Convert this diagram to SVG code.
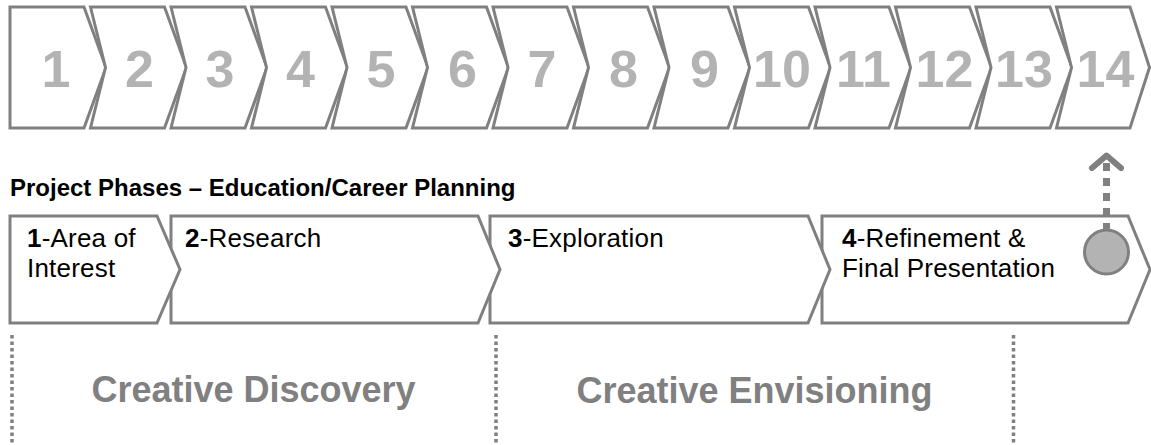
<svg xmlns="http://www.w3.org/2000/svg" width="1151" height="445" viewBox="0 0 1151 445">
<style>
.chev{fill:#fff;stroke:#808080;stroke-width:3;stroke-linejoin:miter}
.num{font-family:"Liberation Sans",Arial,sans-serif;font-weight:bold;font-size:52px;fill:#b3b3b3;text-anchor:middle}
.ph{font-family:"Liberation Sans",Arial,sans-serif;font-size:26px;fill:#000;letter-spacing:0.2px}
.ph .b{font-weight:bold}
.title{font-family:"Liberation Sans",Arial,sans-serif;font-weight:bold;font-size:24px;fill:#000}
.era{font-family:"Liberation Sans",Arial,sans-serif;font-weight:bold;font-size:36px;fill:#808080;text-anchor:middle}
.dots{stroke:#808080;stroke-width:3.5;stroke-dasharray:3.5 3;fill:none}
</style>
<rect width="1151" height="445" fill="#fff"/>
<g id="weeks">
<g id="week-1"><path class="chev" d="M10,7 H84 L106,67.5 L84,128 H10 Z"/><text class="num" x="56" y="87">1</text></g>
<g id="week-2"><path class="chev" d="M90.5,7 H164.5 L186.5,67.5 L164.5,128 H90.5 L105.5,67.5 Z"/><text class="num" x="139.5" y="87">2</text></g>
<g id="week-3"><path class="chev" d="M171,7 H245 L267,67.5 L245,128 H171 L186,67.5 Z"/><text class="num" x="220" y="87">3</text></g>
<g id="week-4"><path class="chev" d="M251.5,7 H325.5 L347.5,67.5 L325.5,128 H251.5 L266.5,67.5 Z"/><text class="num" x="300.5" y="87">4</text></g>
<g id="week-5"><path class="chev" d="M332,7 H406 L428,67.5 L406,128 H332 L347,67.5 Z"/><text class="num" x="381" y="87">5</text></g>
<g id="week-6"><path class="chev" d="M412.5,7 H486.5 L508.5,67.5 L486.5,128 H412.5 L427.5,67.5 Z"/><text class="num" x="462.5" y="87">6</text></g>
<g id="week-7"><path class="chev" d="M493,7 H567 L589,67.5 L567,128 H493 L508,67.5 Z"/><text class="num" x="542" y="87">7</text></g>
<g id="week-8"><path class="chev" d="M573.5,7 H647.5 L669.5,67.5 L647.5,128 H573.5 L588.5,67.5 Z"/><text class="num" x="623.5" y="87">8</text></g>
<g id="week-9"><path class="chev" d="M654,7 H728 L750,67.5 L728,128 H654 L669,67.5 Z"/><text class="num" x="704.5" y="87">9</text></g>
<g id="week-10"><path class="chev" d="M734.5,7 H808.5 L830.5,67.5 L808.5,128 H734.5 L749.5,67.5 Z"/><text class="num" x="782" y="87">10</text></g>
<g id="week-11"><path class="chev" d="M815,7 H889 L911,67.5 L889,128 H815 L830,67.5 Z"/><text class="num" x="863.5" y="87">11</text></g>
<g id="week-12"><path class="chev" d="M895.5,7 H969.5 L991.5,67.5 L969.5,128 H895.5 L910.5,67.5 Z"/><text class="num" x="944.5" y="87">12</text></g>
<g id="week-13"><path class="chev" d="M976,7 H1050 L1072,67.5 L1050,128 H976 L991,67.5 Z"/><text class="num" x="1024" y="87">13</text></g>
<g id="week-14"><path class="chev" d="M1056.5,7 H1130 L1149.5,67.5 L1130,128 H1056.5 L1071.5,67.5 Z"/><text class="num" x="1105.5" y="87">14</text></g>
</g>
<text id="title" class="title" x="10" y="196">Project Phases – Education/Career Planning</text>
<g id="phases">
<g id="phase-4"><path class="chev" d="M822,216 H1128 L1150,269.5 L1128,323 H822 Z"/><text class="ph" x="842" y="247"><tspan class="b">4</tspan>-Refinement &amp;</text><text class="ph" x="842" y="277">Final Presentation</text></g>
<g id="phase-3"><path class="chev" d="M490,216 H808 L830,269.5 L808,323 H490 Z"/><text class="ph" x="508" y="247"><tspan class="b">3</tspan>-Exploration</text></g>
<g id="phase-2"><path class="chev" d="M171,216 H478 L500,269.5 L478,323 H171 Z"/><text class="ph" x="185" y="247"><tspan class="b">2</tspan>-Research</text></g>
<g id="phase-1"><path class="chev" d="M10,216 H157 L180,269.5 L157,323 H10 Z"/><text class="ph" x="27" y="247"><tspan class="b">1</tspan>-Area of</text><text class="ph" x="27" y="277">Interest</text></g>
</g>
<g id="milestone"><circle cx="1106.5" cy="252" r="22" fill="#b3b3b3" stroke="#808080" stroke-width="3"/></g>
<g id="connectors">
<line x1="1106.5" y1="163" x2="1106.5" y2="230" stroke="#808080" stroke-width="7" stroke-dasharray="8 7"/>
<polyline points="1092,168 1106.5,155.5 1121,168" fill="none" stroke="#808080" stroke-width="6" stroke-linecap="round" stroke-linejoin="round"/>
<line class="dots" x1="12" y1="335" x2="12" y2="445"/>
<line class="dots" x1="496" y1="335" x2="496" y2="445"/>
<line class="dots" x1="1013.5" y1="335" x2="1013.5" y2="445"/>
</g>
<g id="eras">
<text class="era" x="253.5" y="402">Creative Discovery</text>
<text class="era" x="754.5" y="403">Creative Envisioning</text>
</g>
</svg>
